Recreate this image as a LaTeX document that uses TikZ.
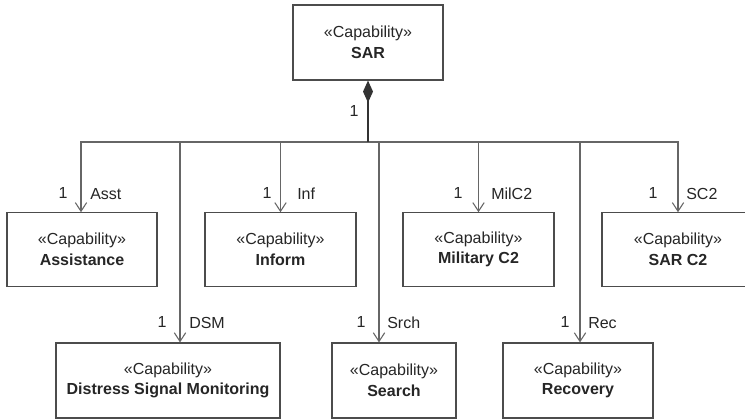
\documentclass[tikz,border=0pt]{standalone}
\usepackage{fontspec}
\setmainfont{Liberation Sans}
\usetikzlibrary{arrows.meta}
\begin{document}
\begin{tikzpicture}[x=0.75pt,y=-0.75pt,
  capbox/.style={draw=black!70, line width=0.9pt, fill=white, align=center, inner sep=0pt,
    font=\fontsize{12}{15.5}\selectfont, text=black!85, minimum height=55pt},
  assoc/.style={draw=black!60, line width=0.8pt, -{Straight Barb[length=6.5pt,width=8.5pt]}},
  comp/.style={draw=black!80, line width=1.3pt, {Diamond[length=16.5pt,width=7.5pt]}-},
  lbl/.style={font=\fontsize{12}{14}\selectfont, text=black!85, inner sep=0pt}]
\useasboundingbox (0,0) rectangle (745,418);
\fill[white] (0,0) rectangle (745,418);

% boxes
\node[capbox, minimum width=112.5pt, minimum height=56.25pt] (sar) at (368,42.5) {«Capability»\\\textbf{SAR}};
\node[capbox, minimum width=112.5pt] (asst) at (82,249.5) {«Capability»\\\textbf{Assistance}};
\node[capbox, minimum width=113.25pt] (inf) at (280.5,249.5) {«Capability»\\\textbf{Inform}};
\node[capbox, minimum width=113.25pt] (mil) at (478.5,249.5) {«Capability»\\\textbf{Military C2}};
\node[capbox, minimum width=114pt] (sc2) at (678,249.5) {«Capability»\\\textbf{SAR C2}};
\node[capbox, minimum width=168pt, minimum height=56.25pt] (dsm) at (168,380.5) {«Capability»\\\textbf{Distress Signal Monitoring}};
\node[capbox, minimum width=93pt, minimum height=56.25pt] (srch) at (394,380.5) {«Capability»\\\textbf{Search}};
\node[capbox, minimum width=112.5pt, minimum height=56.25pt] (rec) at (578,380.5) {«Capability»\\\textbf{Recovery}};

% composition
\coordinate (j) at (368,142);
\draw[assoc] (j) -| ([xshift=-0.75pt]asst.north);
\draw[assoc] (j) -| ([xshift=9pt]dsm.north);
\draw[assoc] (j) -| (inf.north);
\draw[assoc] (j) -| ([xshift=-11.25pt]srch.north);
\draw[assoc] (j) -| (mil.north);
\draw[assoc] (j) -| ([xshift=1.5pt]rec.north);
\draw[assoc] (j) -| (sc2.north);
\draw[comp] (sar.south) -- (j);

% labels
\node[lbl] (m0) at (354,111) {1};
\node[lbl] (m1) at (63,193) {1};
\node[lbl, anchor=west] (r1) at (90,194) {Asst};
\node[lbl] (m2) at (267,193) {1};
\node[lbl, anchor=west] (r2) at (297,194) {Inf};
\node[lbl] (m3) at (458,193) {1};
\node[lbl, anchor=west] (r3) at (491,194) {MilC2};
\node[lbl] (m4) at (653,193) {1};
\node[lbl, anchor=west] (r4) at (686,194) {SC2};
\node[lbl] (m5) at (162,322) {1};
\node[lbl, anchor=west] (r5) at (189,323) {DSM};
\node[lbl] (m6) at (361,322) {1};
\node[lbl, anchor=west] (r6) at (387,323) {Srch};
\node[lbl] (m7) at (565,322) {1};
\node[lbl, anchor=west] (r7) at (588,323) {Rec};
\end{tikzpicture}
\end{document}
